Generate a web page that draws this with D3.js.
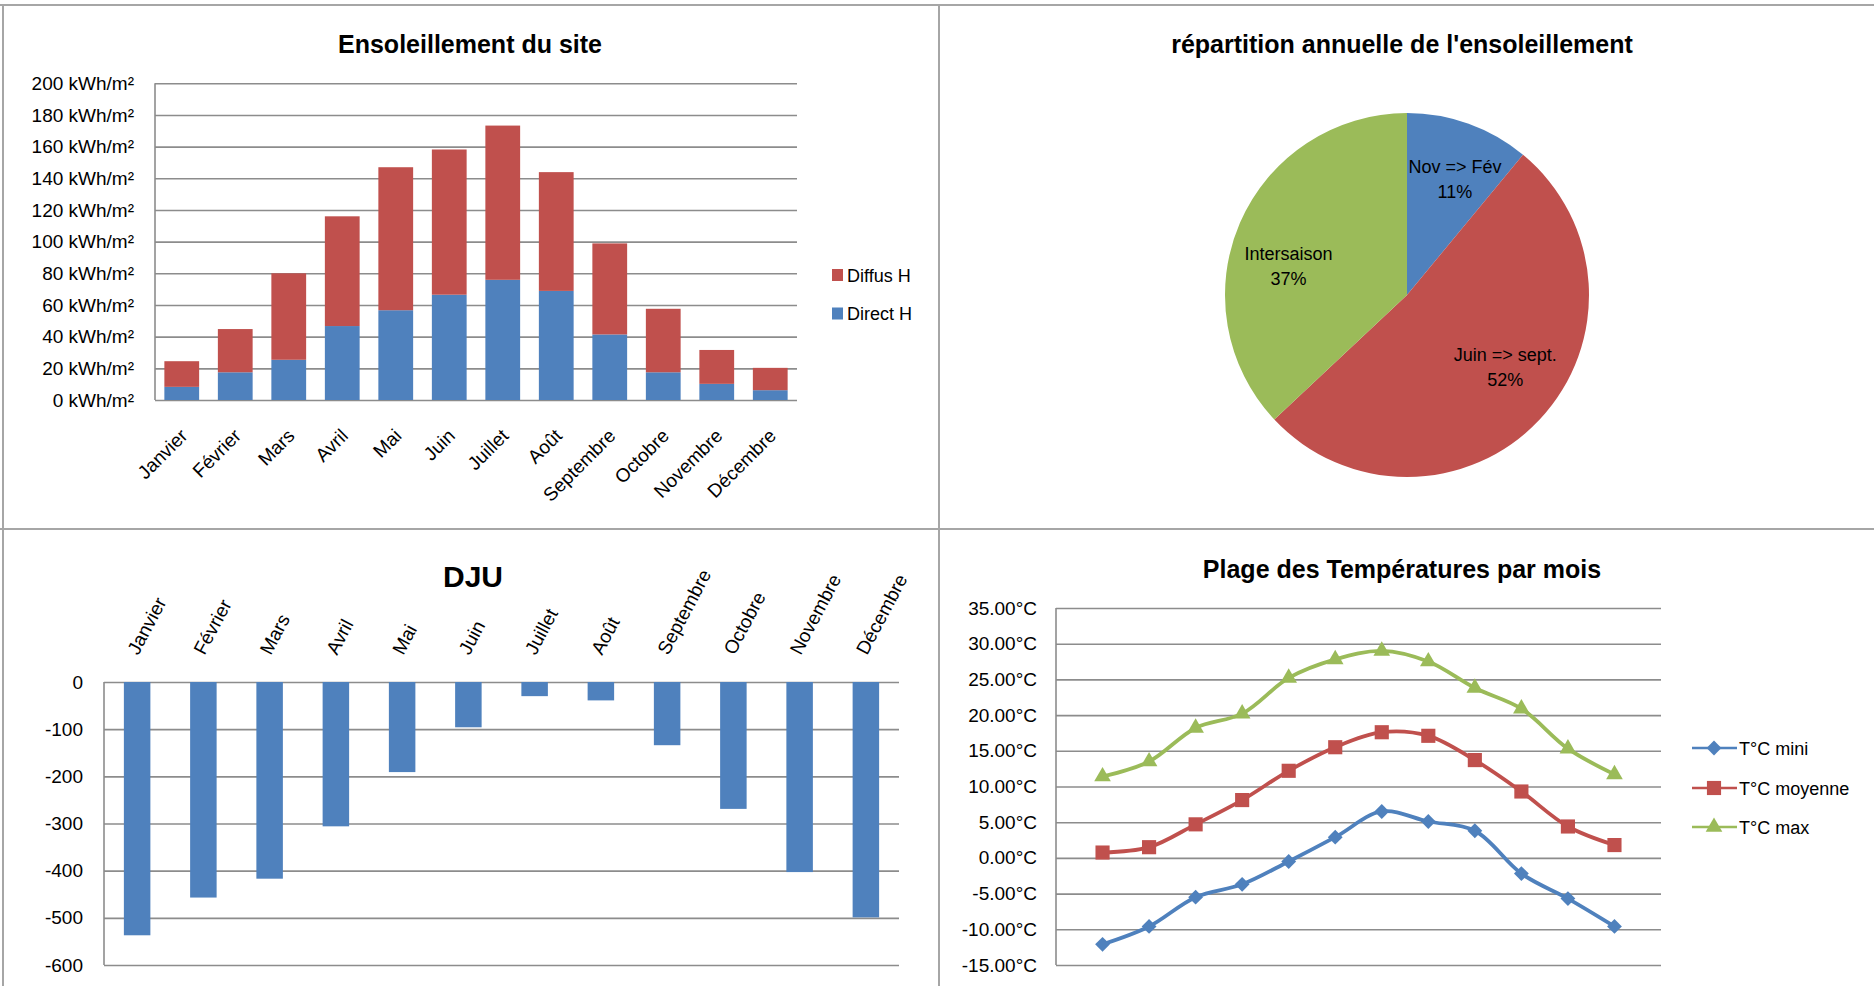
<!DOCTYPE html>
<html>
<head>
<meta charset="utf-8">
<script src="https://cdn.jsdelivr.net/npm/d3@7"></script>
<style>
  html, body { margin: 0; padding: 0; background: #fff; }
  svg { display: block; }
  text { font-family: "Liberation Sans", Arial, sans-serif; fill: #000; }
</style>
</head>
<body>
<script>
// données
const months = ["Janvier", "Février", "Mars", "Avril", "Mai", "Juin", "Juillet", "Août", "Septembre", "Octobre", "Novembre", "Décembre"];
const directH = [8.3, 17.5, 25.4, 46.7, 56.7, 66.5, 75.9, 68.9, 41.4, 17.5, 10.2, 6.2];
const diffusH = [16.2, 27.3, 54.6, 69.3, 90.3, 91.7, 97.4, 75.0, 57.5, 40.1, 21.4, 14.1];
const sunTicks = [0, 20, 40, 60, 80, 100, 120, 140, 160, 180, 200];

const seasons = ["Nov => Fév", "Juin => sept.", "Intersaison"];
const seasonShare = [11, 52, 37];

const dju = [-537, -457, -417, -306, -191, -96, -30, -39, -134, -269, -403, -499];
const djuTicks = [0, -100, -200, -300, -400, -500, -600];

const tMin = [-12.1, -9.6, -5.5, -3.7, -0.5, 2.9, 6.5, 5.1, 3.8, -2.2, -5.7, -9.6];
const tMoy = [0.75, 1.5, 4.7, 8.1, 12.2, 15.5, 17.6, 17.1, 13.7, 9.3, 4.4, 1.8];
const tMax = [11.4, 13.5, 18.2, 20.2, 25.2, 27.8, 29.0, 27.5, 23.8, 20.9, 15.3, 11.7];
const tempTicks = [-15, -10, -5, 0, 5, 10, 15, 20, 25, 30, 35];

const BLUE = "#4F81BD", RED = "#C0504D", GREEN = "#9BBB59";
const GRID = "#8c8c8c";

const svg = d3.select("body").append("svg")
  .attr("width", 1874)
  .attr("height", 986);

svg.append("rect").attr("width", 1874).attr("height", 986).attr("fill", "#fff");

// cadres des quatre graphiques
const frame = svg.append("g").attr("stroke", "#a6a6a6").attr("stroke-width", 2);
frame.append("line").attr("x1", 0).attr("x2", 1874).attr("y1", 5).attr("y2", 5);
frame.append("line").attr("x1", 3).attr("x2", 3).attr("y1", 5).attr("y2", 986);
frame.append("line").attr("x1", 939).attr("x2", 939).attr("y1", 5).attr("y2", 986);
frame.append("line").attr("x1", 0).attr("x2", 1874).attr("y1", 529).attr("y2", 529);

function title(x, y, txt, size) {
  svg.append("text")
    .attr("x", x).attr("y", y)
    .attr("text-anchor", "middle")
    .attr("font-size", size)
    .attr("font-weight", "bold")
    .text(txt);
}

function styleGrid(g) {
  g.select(".domain").remove();
  g.selectAll(".tick line").attr("stroke", GRID).attr("stroke-width", 1.6);
  g.selectAll(".tick text").attr("font-size", 19).attr("fill", "#000");
}

// ---------- 1. Ensoleillement du site ----------
title(470, 53, "Ensoleillement du site", 25);

const x1 = d3.scaleBand().domain(months).range([155, 797]).paddingInner(0.35).paddingOuter(0.175);
const y1 = d3.scaleLinear().domain([0, 200]).range([400, 83.3]);

svg.append("g")
  .attr("transform", "translate(155,0)")
  .call(d3.axisLeft(y1).tickValues(sunTicks).tickSize(-(797 - 155)).tickPadding(21)
    .tickFormat(d => d + " kWh/m²"))
  .call(styleGrid);

const rows = months.map((m, i) => ({month: m, direct: directH[i], diffus: diffusH[i]}));
const stacked = d3.stack().keys(["direct", "diffus"])(rows);
const stackColor = {direct: BLUE, diffus: RED};

svg.append("g").selectAll("g")
  .data(stacked)
  .join("g")
  .attr("fill", s => stackColor[s.key])
  .selectAll("rect")
  .data(s => s)
  .join("rect")
  .attr("x", d => x1(d.data.month))
  .attr("width", x1.bandwidth())
  .attr("y", d => y1(d[1]))
  .attr("height", d => y1(d[0]) - y1(d[1]));

svg.append("line").attr("x1", 155).attr("x2", 155).attr("y1", 83.3).attr("y2", 400)
  .attr("stroke", GRID).attr("stroke-width", 1.6);

svg.append("g").selectAll("text")
  .data(months)
  .join("text")
  .attr("transform", m => `translate(${x1(m) + x1.bandwidth() / 2 + 7},437) rotate(-45)`)
  .attr("text-anchor", "end")
  .attr("font-size", 19)
  .text(m => m);

const leg1 = [{name: "Diffus H", color: RED, y: 275}, {name: "Direct H", color: BLUE, y: 313.5}];
const lg1 = svg.append("g").selectAll("g").data(leg1).join("g");
lg1.append("rect").attr("x", 832).attr("y", d => d.y - 6).attr("width", 11).attr("height", 12).attr("fill", d => d.color);
lg1.append("text").attr("x", 847).attr("y", d => d.y + 6.5).attr("font-size", 18).text(d => d.name);

// ---------- 2. répartition annuelle ----------
title(1402, 53, "répartition annuelle de l'ensoleillement", 25);

const pieColors = [BLUE, RED, GREEN];
const pieData = d3.pie().sort(null).value(d => d.v)(seasons.map((s, i) => ({s: s, v: seasonShare[i], c: pieColors[i]})));
const R = 182;
const arc = d3.arc().innerRadius(0).outerRadius(R);
const labelArc = d3.arc().innerRadius(R * 0.68).outerRadius(R * 0.68);
// petit décalage "best fit" des étiquettes comme Excel
const labelNudge = [[6, 0], [8, -13], [-5, 20]];
const pieG = svg.append("g").attr("transform", "translate(1407,295)");

pieG.selectAll("path")
  .data(pieData)
  .join("path")
  .attr("d", arc)
  .attr("fill", d => d.data.c);

const pl = pieG.selectAll("text.lbl")
  .data(pieData)
  .join("text")
  .attr("class", "lbl")
  .attr("text-anchor", "middle")
  .attr("font-size", 18)
  .attr("transform", (d, i) => {
    const c = labelArc.centroid(d);
    return `translate(${c[0] + labelNudge[i][0]},${c[1] + labelNudge[i][1]})`;
  });
pl.append("tspan").attr("x", 0).attr("y", -6).text(d => d.data.s);
pl.append("tspan").attr("x", 0).attr("y", 19).text(d => d.data.v + "%");

// ---------- 3. DJU ----------
title(473, 587, "DJU", 30);

const x3 = d3.scaleBand().domain(months).range([104, 899]).paddingInner(0.6).paddingOuter(0.3);
const y3 = d3.scaleLinear().domain([-600, 0]).range([965, 682]);

svg.append("g")
  .attr("transform", "translate(104,0)")
  .call(d3.axisLeft(y3).tickValues(djuTicks).tickSize(-(899 - 104)).tickPadding(21)
    .tickFormat(d => String(d)))
  .call(styleGrid);

svg.append("g").selectAll("rect")
  .data(dju)
  .join("rect")
  .attr("x", (d, i) => x3(months[i]))
  .attr("width", x3.bandwidth())
  .attr("y", y3(0))
  .attr("height", d => y3(d) - y3(0))
  .attr("fill", BLUE);

svg.append("line").attr("x1", 104).attr("x2", 104).attr("y1", 682).attr("y2", 965)
  .attr("stroke", GRID).attr("stroke-width", 1.6);

svg.append("g").selectAll("text")
  .data(months)
  .join("text")
  .attr("transform", m => `translate(${x3(m) + x3.bandwidth() / 2 + 1},656) rotate(-62)`)
  .attr("text-anchor", "start")
  .attr("font-size", 19)
  .text(m => m);

// ---------- 4. Plage des Températures ----------
title(1402, 578, "Plage des Températures par mois", 25);

const x4 = d3.scaleLinear().domain([0, 13]).range([1056, 1661]);
const y4 = d3.scaleLinear().domain([-15, 35]).range([965, 608]);

svg.append("g")
  .attr("transform", "translate(1056,0)")
  .call(d3.axisLeft(y4).tickValues(tempTicks).tickSize(-(1661 - 1056)).tickPadding(19)
    .tickFormat(d => d.toFixed(2) + "°C"))
  .call(styleGrid);

svg.append("line").attr("x1", 1056).attr("x2", 1056).attr("y1", 608).attr("y2", 965)
  .attr("stroke", GRID).attr("stroke-width", 1.6);

const series = [
  {name: "T°C mini", values: tMin, color: BLUE, sym: d3.symbolSquare, size: 110, rot: 45},
  {name: "T°C moyenne", values: tMoy, color: RED, sym: d3.symbolSquare, size: 200, rot: 0},
  {name: "T°C max", values: tMax, color: GREEN, sym: d3.symbolTriangle, size: 120, rot: 0}
];

const line = d3.line()
  .x((d, i) => x4(i + 1))
  .y(d => y4(d))
  .curve(d3.curveCatmullRom.alpha(0.5));

const sg = svg.append("g").selectAll("g").data(series).join("g");
sg.append("path")
  .attr("d", s => line(s.values))
  .attr("fill", "none")
  .attr("stroke", s => s.color)
  .attr("stroke-width", 3.8);
sg.each(function(s) {
  d3.select(this).selectAll("path.mk")
    .data(s.values)
    .join("path")
    .attr("class", "mk")
    .attr("d", d3.symbol(s.sym, s.size))
    .attr("transform", (d, i) => `translate(${x4(i + 1)},${y4(d)}) rotate(${s.rot})`)
    .attr("fill", s.color);
});

const leg4 = svg.append("g").selectAll("g").data(series).join("g")
  .attr("transform", (s, i) => `translate(0,${[748, 788, 827][i]})`);
leg4.append("line").attr("x1", 1692).attr("x2", 1737).attr("y1", 0).attr("y2", 0)
  .attr("stroke", s => s.color).attr("stroke-width", 2.5);
leg4.append("path")
  .attr("d", s => d3.symbol(s.sym, s.size)())
  .attr("transform", s => `translate(1714,0) rotate(${s.rot})`)
  .attr("fill", s => s.color);
leg4.append("text").attr("x", 1739).attr("y", 6.5).attr("font-size", 18).text(s => s.name);
</script>
</body>
</html>
